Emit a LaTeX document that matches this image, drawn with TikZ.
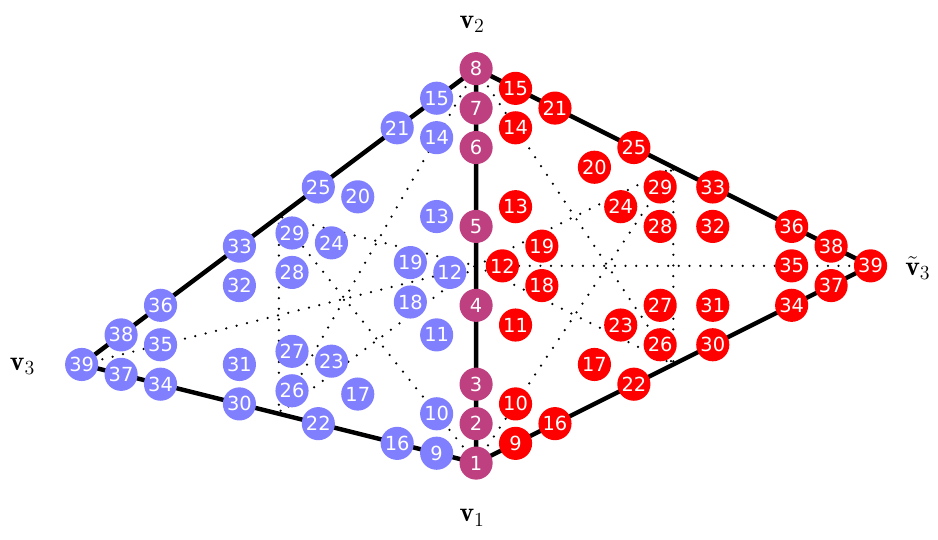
\documentclass[tikz,border=0pt]{standalone}
\usepackage{fontspec}
\usepackage{amsmath}
\newfontfamily\numfont{DejaVu Sans}
\definecolor{midpurple}{RGB}{191,64,128}
\definecolor{leftblue}{RGB}{128,128,255}
\definecolor{rightred}{RGB}{255,0,0}

\begin{document}
\begin{tikzpicture}[
    every node/.style={circle, inner sep=0pt, minimum size=0.84cm, text=white,
      font=\numfont\fontsize{14}{15}\selectfont},
    mid/.style={fill=midpurple},
    lft/.style={fill=leftblue},
    rgt/.style={fill=rightred},
    edge/.style={line width=3.2pt, line join=round},
    dotline/.style={line width=1.8pt, line cap=round, dash pattern=on 0pt off 0.27cm},
    lbl/.style={fill=none, text=black, minimum size=0pt, inner sep=1pt,
      font=\fontsize{20}{24}\selectfont}
]
\useasboundingbox (-12.07,-1.93) rectangle (11.71,11.74);

% Corners and edge midpoints
\coordinate (v1)   at (0,0);
\coordinate (v2)   at (0,10);
\coordinate (v3r)  at (10,5);
\coordinate (v3l)  at (-10,2.5);
\coordinate (m12)  at (0,5);
\coordinate (m13r) at (5,2.5);
\coordinate (m23r) at (5,7.5);
\coordinate (m13l) at (-5,1.25);
\coordinate (m23l) at (-5,6.25);

% Medians and medial triangles — dotted
\foreach \s in {r,l}{
  \draw[dotline] (v1)   -- (m23\s);
  \draw[dotline] (v2)   -- (m13\s);
  \draw[dotline] (v3\s) -- (m12);
  \draw[dotline] (m12) -- (m13\s) -- (m23\s) -- cycle;
}

% Outer edges — thick
\draw[edge] (v1) -- (v2) -- (v3r) -- cycle;
\draw[edge] (v2) -- (v3l) -- (v1);

% Shared edge v1--v2
\foreach \n/\b in {1/0, 2/0.1, 3/0.2, 4/0.4, 5/0.6, 6/0.8, 7/0.9, 8/1}
  \node[mid] (c\n) at (0,{10*\b}) {\n};

% Both triangles, weights b (for v2) and c (for v3)
\foreach \n/\b/\c in {9/0/0.1, 10/0.1/0.1, 11/0.3/0.1, 12/0.46667/0.06667,
    13/0.6/0.1, 14/0.8/0.1, 15/0.9/0.1, 16/0/0.2, 17/0.1/0.3,
    18/0.36667/0.16667, 19/0.46667/0.16667, 20/0.6/0.3, 21/0.8/0.2,
    22/0/0.4, 23/0.16667/0.36667, 24/0.46667/0.36667, 25/0.6/0.4,
    26/0.06667/0.46667, 27/0.16667/0.46667, 28/0.36667/0.46667,
    29/0.46667/0.46667, 30/0/0.6, 31/0.1/0.6, 32/0.3/0.6, 33/0.4/0.6,
    34/0/0.8, 35/0.1/0.8, 36/0.2/0.8, 37/0/0.9, 38/0.1/0.9, 39/0/1}{
  \node[lft] (l\n) at ({-10*\c},{10*\b+2.5*\c}) {\n};
  \node[rgt] (r\n) at ({10*\c},{10*\b+5*\c}) {\n};
}

% Corner labels
\node[lbl] (lv1)  at (-0.1,-1.39)  {$\mathbf{v}_1$};
\node[lbl] (lv2)  at (-0.1,11.13)  {$\mathbf{v}_2$};
\node[lbl] (lv3)  at (-11.5,2.45)  {$\mathbf{v}_3$};
\node[lbl] (lv3t) at (11.2,4.95)   {$\tilde{\mathbf{v}}_3$};
\end{tikzpicture}
\end{document}
